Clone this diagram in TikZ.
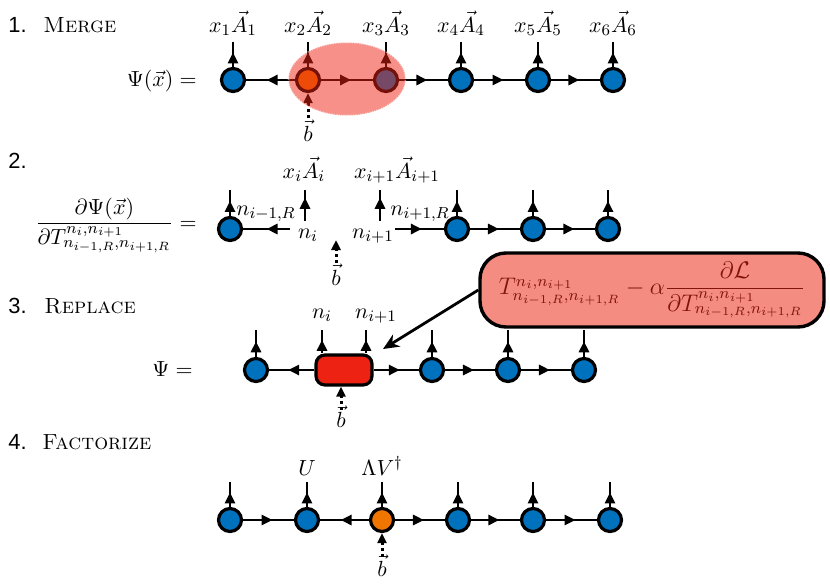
\documentclass[tikz,border=0pt]{standalone}
\usepackage{fontspec}
\newfontfamily\numfont{Liberation Sans}
\usetikzlibrary{decorations.markings,arrows.meta,shapes.geometric}
\definecolor{nblue}{RGB}{0,114,189}
\definecolor{norange}{RGB}{240,118,0}
\definecolor{boxred}{RGB}{237,34,18}
\definecolor{calfill}{RGB}{245,140,130}
\definecolor{caltext}{RGB}{130,20,12}
\tikzset{
 every node/.style={font=\fontsize{10.95}{13}\selectfont},
 site/.style={circle,draw=black,line width=1.6pt,fill=nblue,minimum size=11.5pt,inner sep=0pt},
 osite/.style={site,fill=norange},
 bond/.style={line width=1.4pt,postaction={decorate},decoration={markings,mark=at position #1 with {\arrow{Triangle[length=5.5pt,width=5pt]}}}},
 bond/.default=0.58,
 bstub/.style={line width=1.5pt,dash pattern=on 1.5pt off 1.6pt,-{Triangle[length=5pt,width=4.5pt]}},
 lab/.style={anchor=base,inner sep=0pt},
 head/.style={anchor=base west,inner sep=0pt},
 redbox/.style={rectangle,rounded corners=4.5pt,draw=black,line width=1.6pt,fill=boxred,minimum width=28pt,minimum height=15pt,inner sep=0pt},
 callbox/.style={rectangle,rounded corners=13pt,draw=black,line width=1.7pt,fill=calfill,minimum width=172pt,minimum height=37pt,inner sep=2pt,text=caltext,font=\fontsize{11.5}{13}\selectfont},
}
\begin{document}
\begin{tikzpicture}[x=0.5pt,y=-0.5pt]
\useasboundingbox (0,0) rectangle (830,584);

% ---------- 1. Merge ----------
\node[head] (h1) at (8,32) {\numfont 1.};
\node[head] (h1t) at (43,32) {\textsc{Merge}};
\node[anchor=base east,inner sep=0pt] (psi1) at (197,86) {$\Psi(\vec x) =$};
\node[site] (a1) at (233,80) {};
\node[osite] (a2) at (308,80) {};
\node[site] (a3) at (386,80) {};
\node[site] (a4) at (461,80) {};
\node[site] (a5) at (538,80) {};
\node[site] (a6) at (613,80) {};
\foreach \i/\x in {1/233,2/308,3/386,4/461,5/538,6/613}{
  \coordinate (ta\i) at (\x,42);
  \draw[bond] (a\i) -- (ta\i);
  \node[lab] (la\i) at (\x,32) {$x_{\i}\vec A_{\i}$};
}
\draw[bond] (a2) -- (a1);
\draw[bond] (a2) -- (a3);
\draw[bond] (a3) -- (a4);
\draw[bond] (a4) -- (a5);
\draw[bond] (a5) -- (a6);
\coordinate (ba) at (308,118);
\draw[bstub] (ba) -- (a2);
\node[lab] (lba) at (308,141) {$\vec b$};
\node[ellipse,fill=boxred,fill opacity=0.5,draw=white,draw opacity=0.5,line width=0.8pt,dash pattern=on 0.6pt off 0.6pt,minimum width=58.5pt,minimum height=36.5pt] (blob) at (347,79) {};

% ---------- 2. ----------
\node[head] (h2) at (8,168) {\numfont 2.};
\node[anchor=base east,inner sep=0pt] (frac2) at (197,229) {$\displaystyle\frac{\partial\Psi(\vec x)}{\partial T^{n_i,n_{i+1}}_{n_{i-1,R},n_{i+1,R}}} =$};
\node[site] (c1) at (230,229) {};
\coordinate (tc1) at (230,190);
\draw[bond] (c1) -- (tc1);
\coordinate (cl) at (290,229);
\draw[bond=0.5] (cl) -- (c1);
\coordinate (ui0) at (305,221); \coordinate (ui1) at (305,190);
\draw[bond=0.75] (ui0) -- (ui1);
\coordinate (uj0) at (380,221); \coordinate (uj1) at (380,190);
\draw[bond=0.75] (uj0) -- (uj1);
\coordinate (cr) at (395,229);
\node[site] (c2) at (457,229) {};
\node[site] (c3) at (533,229) {};
\node[site] (c4) at (608,229) {};
\draw[bond=0.55] (cr) -- (c2);
\draw[bond] (c2) -- (c3);
\draw[bond] (c3) -- (c4);
\foreach \i/\x in {2/457,3/533,4/608}{
  \coordinate (tc\i) at (\x,190);
  \draw[bond] (c\i) -- (tc\i);
}
\coordinate (bc0) at (336,263); \coordinate (bc1) at (336,240);
\draw[bstub] (bc0) -- (bc1);
\node[lab] (lbc) at (336,285) {$\vec b$};
\node[lab] (lxi) at (304,178) {$x_i\vec A_i$};
\node[lab] (lxj) at (397,178) {$x_{i+1}\vec A_{i+1}$};
\node[lab] (lnl) at (266,215) {$n_{i-1,R}$};
\node[lab] (lnr) at (420,215) {$n_{i+1,R}$};
\node[lab] (lni) at (308,238) {$n_i$};
\node[lab] (lnj) at (373,238) {$n_{i+1}$};

% ---------- 3. Replace ----------
\node[head] (h3) at (8,313) {\numfont 3.};
\node[head] (h3t) at (44,313) {\textsc{Replace}};
\node[anchor=base east,inner sep=0pt] (psi3) at (193,376) {$\Psi =$};
\node[site] (d1) at (256,370) {};
\node[redbox] (box) at (344,370) {};
\node[site] (d2) at (432,370) {};
\node[site] (d3) at (508,370) {};
\node[site] (d4) at (584,370) {};
\foreach \i/\x in {1/256,2/432,3/508,4/584}{
  \coordinate (td\i) at (\x,330);
  \draw[bond] (d\i) -- (td\i);
}
\coordinate (tb1) at (322,330); \coordinate (tb2) at (366,330);
\draw[bond] (box.north -| tb1) -- (tb1);
\draw[bond] (box.north -| tb2) -- (tb2);
\draw[bond] (box) -- (d1);
\draw[bond] (box) -- (d2);
\draw[bond] (d2) -- (d3);
\draw[bond] (d3) -- (d4);
\coordinate (bd0) at (341,410);
\draw[bstub] (bd0) -- (box.south -| bd0);
\node[lab] (lbd) at (341,427) {$\vec b$};
\node[lab] (lni3) at (322,318) {$n_i$};
\node[lab] (lnj3) at (376,318) {$n_{i+1}$};
\node[callbox] (call) at (652,290) {$T^{n_i,n_{i+1}}_{n_{i-1,R},n_{i+1,R}} - \alpha\displaystyle\frac{\partial\mathcal{L}}{\partial T^{n_i,n_{i+1}}_{n_{i-1,R},n_{i+1,R}}}$};
\coordinate (tipc) at (383,349);
\draw[line width=1.4pt,-{Stealth[length=8pt,width=7pt]}] (call.west) -- (tipc);

% ---------- 4. Factorize ----------
\node[head] (h4) at (8,449) {\numfont 4.};
\node[head] (h4t) at (42,449) {\textsc{Factorize}};
\node[site] (e1) at (230,520) {};
\node[site] (e2) at (307,520) {};
\node[osite] (e3) at (382,520) {};
\node[site] (e4) at (458,520) {};
\node[site] (e5) at (533,520) {};
\node[site] (e6) at (610,520) {};
\foreach \i/\x in {1/230,2/307,3/382,4/458,5/533,6/610}{
  \coordinate (te\i) at (\x,482);
  \draw[bond] (e\i) -- (te\i);
}
\draw[bond] (e1) -- (e2);
\draw[bond] (e3) -- (e2);
\draw[bond] (e3) -- (e4);
\draw[bond] (e4) -- (e5);
\draw[bond] (e5) -- (e6);
\coordinate (be) at (382,557);
\draw[bstub] (be) -- (e3);
\node[lab] (lbe) at (382,576) {$\vec b$};
\node[lab] (lU) at (307,475) {$U$};
\node[lab] (lL) at (382,475) {$\Lambda V^\dagger$};
\end{tikzpicture}
\end{document}
